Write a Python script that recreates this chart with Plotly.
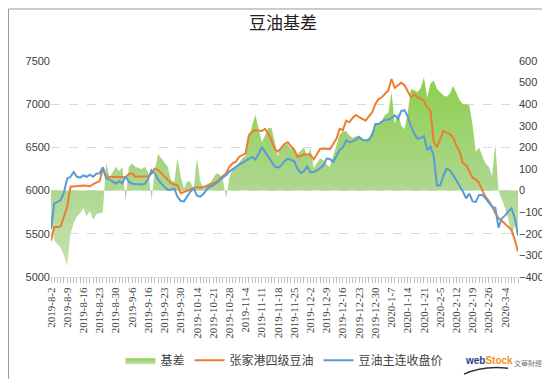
import plotly.graph_objects as go

tick_labels = ["2019-8-2", "2019-8-9", "2019-8-16", "2019-8-23", "2019-8-30", "2019-9-6",
               "2019-9-16", "2019-9-23", "2019-9-30", "2019-10-14", "2019-10-21", "2019-10-28",
               "2019-11-4", "2019-11-11", "2019-11-18", "2019-11-25", "2019-12-2", "2019-12-9",
               "2019-12-16", "2019-12-23", "2019-12-30", "2020-1-7", "2020-1-14", "2020-1-21",
               "2020-2-5", "2020-2-12", "2020-2-19", "2020-2-26", "2020-3-4"]

basis = [-130, -230, -250, -265, -300, -350, -200, -150, -120, -105,
         -80, -120, -95, -135, -110, -105, -100, 130, 60, 85,
         110, 90, 110, -50, 110, 125, 110, 105, 100, 110,
         80, -45, 90, 170, 150, 130, 110, 50, 40, 150,
         65, 10, 45, 40, 5, 150, 45, 10, 30, 35,
         55, 80, 75, 50, -35, 60, 100, 110, 130, 150,
         160, 245, 300, 350, 290, 225, 255, 290, 290, 220,
         160, 205, 215, 215, 190, 200, 170, 185, 200, 160,
         195, 105, 130, 150, 140, 120, 110, 160, 220, 260,
         275, 275, 255, 245, 250, 255, 240, 235, 245, 270,
         300, 310, 325, 350, 360, 455, 310, 360, 300, 285,
         360, 470, 465, 455, 475, 525, 430, 495, 510, 470,
         455, 440, 435, 450, 485, 450, 420, 400, 400, 395,
         300, 180, 200, 160, 125, 110, 65, 215, 0, -40,
         -80, -130, -210, -160, -190]

zhangjiagang = [5420, 5580, 5580, 5585, 5700, 5810, 6045, 6050, 6055, 6060,
                6060, 6055, 6050, 6075, 6090, 6110, 6255, 6165, 6160, 6160,
                6155, 6160, 6160, 6155, 6190, 6200, 6160, 6160, 6160, 6160,
                6165, 6195, 6255, 6240, 6200, 6170, 6130, 6085, 6070, 6060,
                5970, 5985, 6000, 6015, 6030, 6040, 6030, 6045, 6050, 6070,
                6085, 6100, 6140, 6170, 6200, 6275, 6315, 6335, 6390, 6410,
                6430, 6640, 6680, 6700, 6695, 6690, 6715, 6660, 6580, 6480,
                6450, 6490, 6540, 6560, 6520, 6470, 6390, 6400, 6420, 6420,
                6415, 6360, 6420, 6485, 6485, 6485, 6480, 6540, 6600, 6715,
                6700, 6810, 6790, 6840, 6875, 6850, 6830, 6810, 6860, 6905,
                7000, 7060, 7080, 7120, 7160, 7290, 7190, 7220, 7250, 7220,
                7150, 7080, 7110, 7080, 7060, 7040, 6960, 6925, 6570, 6500,
                6595, 6690, 6670, 6655, 6615, 6520, 6450, 6315, 6295, 6230,
                6150, 6130, 6090, 6000, 5930, 5880, 5820, 5740, 5680, 5650,
                5615, 5580, 5545, 5430, 5295]

main_close = [5555, 5850, 5870, 5890, 5980, 6140, 6160, 6215, 6160, 6150,
              6175, 6160, 6185, 6160, 6195, 6200, 6270, 6140, 6130, 6100,
              6080, 6110, 6085, 6165, 6100, 6080, 6075, 6070, 6070, 6080,
              6140, 6235, 6200, 6130, 6080, 6045, 6010, 6010, 6025, 5930,
              5880, 5875, 5930, 5990, 6025, 5940, 5930, 5960, 6010, 6045,
              6060, 6090, 6110, 6150, 6180, 6220, 6250, 6270, 6300, 6320,
              6345, 6370, 6390, 6360, 6420, 6505, 6450, 6400, 6340, 6280,
              6265, 6290, 6340, 6370, 6355, 6340, 6250, 6205, 6225, 6280,
              6210, 6215, 6235, 6260, 6290, 6370, 6365, 6330, 6410, 6470,
              6500, 6580, 6560, 6570, 6590, 6620, 6590, 6580, 6585, 6640,
              6770, 6770, 6800, 6820, 6820, 6840, 6870, 6830, 6920, 6930,
              6860, 6740, 6660, 6600, 6610, 6630, 6470, 6510, 6400, 6060,
              6060, 6175, 6255, 6235, 6180, 6120, 6060, 5990, 5910, 5965,
              5875, 5870, 5950, 5950, 5910, 5860, 5815, 5800, 5570, 5680,
              5710, 5760, 5795, 5685, 5480]

days = list(range(len(basis)))
label_pos = [days[k * 5] for k in range(len(tick_labels))]

fig = go.Figure()
fig.add_trace(go.Scatter(
    x=days, y=basis, name="基差", mode="lines", fill="tozeroy",
    line=dict(width=0, color="#a9d18e"),
    fillgradient=dict(type="vertical",
                      colorscale=[[0, "#c6e2b2"], [0.45, "#acd68c"], [1, "#8ccf4b"]],
                      start=-350, stop=530),
    yaxis="y", hoverinfo="skip"))
fig.add_trace(go.Scatter(
    x=days, y=zhangjiagang, name="张家港四级豆油", mode="lines",
    line=dict(color="#ED7D31", width=2), yaxis="y2"))
fig.add_trace(go.Scatter(
    x=days, y=main_close, name="豆油主连收盘价", mode="lines",
    line=dict(color="#5B9BD5", width=2), yaxis="y2"))

tickfont = dict(family="Liberation Sans, Arial, sans-serif", size=11, color="#404040")

fig.update_layout(
    width=550, height=379,
    margin=dict(l=43, r=40, t=53, b=108),
    paper_bgcolor="white", plot_bgcolor="white",
    title=dict(text="豆油基差", x=0.5, xanchor="center", y=0.96, yanchor="middle",
               font=dict(family="Noto Sans CJK SC", size=17, color="#222222")),
    xaxis=dict(range=[0, days[-1]], tickmode="array", tickvals=label_pos, ticktext=tick_labels,
               tickangle=-90, ticks="outside", ticklen=5, tickcolor="#bfbfbf",
               minor=dict(ticks="outside", dtick=1, tick0=0, ticklen=5, tickcolor="#bfbfbf"),
               showline=True, linecolor="#d9d9d9", linewidth=1, showgrid=False, zeroline=False,
               tickfont=dict(family="Liberation Serif, serif", size=11, color="#404040")),
    yaxis=dict(side="right", range=[-400, 600], dtick=100, showgrid=False, zeroline=False,
               showline=False, ticks="", tickfont=tickfont),
    yaxis2=dict(side="left", overlaying="y", range=[5000, 7500], dtick=500, showgrid=True,
                gridcolor="#d9d9d9", griddash="dash", gridwidth=1, zeroline=False,
                showline=False, ticks="", tickfont=tickfont),
    showlegend=True,
    legend=dict(orientation="h", x=0.5, xanchor="center", y=-0.385, yanchor="middle",
                font=dict(family="Noto Sans CJK SC", size=12, color="#404040"),
                bgcolor="rgba(0,0,0,0)", itemwidth=30, traceorder="normal"),
)

# outer frame
fig.add_shape(type="rect", xref="paper", yref="paper",
              x0=(0.5 - 43) / 467, x1=(549.5 - 43) / 467,
              y0=(271 - 378.5) / 218, y1=(271 - 0.5) / 218,
              line=dict(color="#9a9a9a", width=1), fillcolor="rgba(0,0,0,0)")

# webstock logo text
fig.add_annotation(xref="paper", yref="paper", x=(455 - 43) / 467, y=(271 - 355) / 218,
                   text="<b><span style='color:#1d3e8a'>web</span><span style='color:#f0901e'>Stock</span></b>",
                   showarrow=False, font=dict(family="Liberation Sans, Arial", size=10),
                   xanchor="left", yanchor="middle")
fig.add_annotation(xref="paper", yref="paper", x=(504 - 43) / 467, y=(271 - 358) / 218,
                   text="文華財經", showarrow=False,
                   font=dict(family="Noto Sans CJK TC", size=7, color="#7a7a7a"),
                   xanchor="left", yanchor="middle")
fig.add_shape(type="path", xref="paper", yref="paper",
              path="M {:.4f},{:.4f} Q {:.4f},{:.4f} {:.4f},{:.4f}".format(
                  (456 - 43) / 467, (271 - 369) / 218,
                  (475 - 43) / 467, (271 - 360) / 218,
                  (500 - 43) / 467, (271 - 363) / 218),
              line=dict(color="#333333", width=1.5))

fig.write_html("out.html")
